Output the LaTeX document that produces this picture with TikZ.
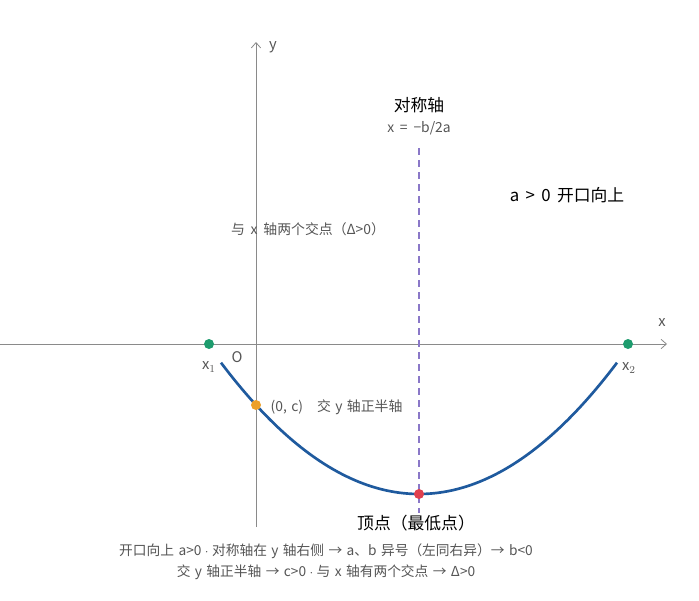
\documentclass[tikz,border=0pt]{standalone}
\usepackage{fontspec}
\setmainfont{Noto Sans CJK SC}
\usetikzlibrary{arrows.meta}
\definecolor{axisgray}{HTML}{8A8A8A}
\definecolor{textgray}{HTML}{555555}
\definecolor{curveblue}{HTML}{1F5A9E}
\definecolor{rootgreen}{HTML}{1E9C6E}
\definecolor{cutorange}{HTML}{ECA02A}
\definecolor{vertexred}{HTML}{E0404E}
\definecolor{axispurple}{HTML}{8A78C8}
\newcommand{\middot}{\hspace{0.25em}$\cdot$\hspace{0.25em}}
\newcommand{\gapsp}{\spaceskip=0.32em\relax}
\newcommand{\midgapsp}{\spaceskip=0.38em\relax}
\newcommand{\widegapsp}{\spaceskip=0.42em\relax}
\tikzset{
  >={Straight Barb[length=4pt,width=7pt]},
  axis/.style={draw=axisgray,line width=0.6pt,->},
  dot/.style={circle,inner sep=0pt,minimum size=7.5pt},
  note/.style={text=textgray,font=\fontsize{10.4}{12}\selectfont\gapsp},
  title/.style={text=black,font=\fontsize{12.6}{15}\selectfont\gapsp}
}

\begin{document}
\begin{tikzpicture}[x=0.75pt,y=-0.75pt]
      \useasboundingbox (0,0) rectangle (699,600);
      % axes
      \coordinate (xl) at (0,344);
      \coordinate (xr) at (667,344);
      \coordinate (yb) at (256,527);
      \coordinate (yt) at (256,42);
      \draw[axis] (xl)--(xr);
      \draw[axis] (yb)--(yt);
      \node[note,font=\fontsize{11}{13}\selectfont] (xlab) at (662,323) {x};
      \node[note,font=\fontsize{11}{13}\selectfont] (ylab) at (273,47) {y};
      \node[note,font=\fontsize{11}{13}\selectfont] (origin) at (237,357) {O};
      % axis of symmetry
      \coordinate (st) at (419,148);
      \coordinate (sb) at (419,513);
      \draw[axispurple,line width=1pt,dash pattern=on 5pt off 4pt] (st)--(sb);
      \node[title] (symname) at (419,105) {对称轴};
      \node[note,font=\fontsize{10.4}{12}\selectfont\widegapsp] (symeq) at (419,128) {x = −b/2a};
      % parabola
      \draw[curveblue,line width=2pt]
        plot[domain=221:617,samples=90] (\x,{494-((\x-419)*0.05788)^2});
      % points
      \node[dot,fill=rootgreen] (xone) at (209,344) {};
      \node[dot,fill=rootgreen] (xtwo) at (628,344) {};
      \node[dot,fill=cutorange] (cut) at (256,405) {};
      \node[dot,fill=vertexred] (vertex) at (419,494) {};
      \node[note,font=\fontsize{11}{13}\selectfont] (xonelab) at (209,367) {x$_1$};
      \node[note,font=\fontsize{11}{13}\selectfont] (xtwolab) at (629,368) {x$_2$};
      \node[note,anchor=west] (cutlab) at (266,407) {(0, c)\quad 交 y 轴正半轴};
      \node[title] (vertexlab) at (416,523) {顶点（最低点）};
      % notes
      \node[title,font=\fontsize{12.6}{15}\selectfont\midgapsp] (opening) at (567,195) {a > 0 开口向上};
      \node[note,font=\fontsize{10.4}{12}\selectfont\widegapsp] (roots) at (308,229) {与 x 轴两个交点（Δ>0）};
      \node[note,font=\fontsize{10.3}{15.75}\selectfont\gapsp,align=center] (summary) at (326,562)
        {开口向上 a>0\middot 对称轴在 y 轴右侧 → a、b 异号（左同右异）→ b<0\\
         交 y 轴正半轴 → c>0\middot 与 x 轴有两个交点 → Δ>0};
    \end{tikzpicture}
\end{document}
